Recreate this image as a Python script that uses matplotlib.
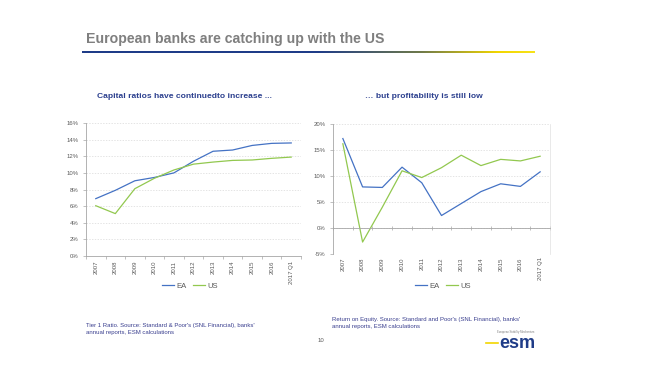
import matplotlib.pyplot as plt
import numpy as np
from matplotlib.colors import LinearSegmentedColormap

plt.rcParams['font.family'] = ['Liberation Sans', 'DejaVu Sans']

years = ["2007", "2008", "2009", "2010", "2011", "2012", "2013", "2014", "2015", "2016", "2017 Q1"]

# Tier 1 ratio (%)
cap_ea = [6.9, 7.9, 9.05, 9.45, 10.0, 11.4, 12.6, 12.75, 13.3, 13.55, 13.6]
cap_us = [6.05, 5.1, 8.1, 9.35, 10.35, 11.05, 11.3, 11.5, 11.55, 11.75, 11.9]

# Return on equity (%)
roe_ea = [17.2, 7.9, 7.8, 11.7, 8.7, 2.4, 4.7, 7.0, 8.5, 8.0, 10.8]
roe_us = [16.2, -2.7, 4.0, 11.0, 9.7, 11.6, 14.0, 12.0, 13.2, 12.9, 13.8]

W, H = 657, 371
BLUE = '#4472c4'
GREEN = '#92c84f'
NAVY = '#2b3f8e'
GREY = '#595959'


def px(x, y, w, h):
    # pixel box (from top-left) -> figure fraction
    return [x / W, 1 - (y + h) / H, w / W, h / H]


fig = plt.figure(figsize=(W / 100, H / 100), dpi=100)

# title and gradient underline
fig.text(86 / W, 1 - 39 / H, "European banks are catching up with the US",
         fontsize=10.2, fontweight='bold', color='#7f7f7f', va='center', ha='left')
gax = fig.add_axes(px(82, 51, 453, 2.2))
cmap = LinearSegmentedColormap.from_list(
    'ul', [(0, '#1f3c88'), (0.52, '#1f3c88'), (0.75, '#6f7a4a'), (0.92, '#f2d600'), (1, '#f7e21a')])
gax.imshow(np.linspace(0, 1, 256)[None, :], aspect='auto', cmap=cmap)
gax.axis('off')

# subtitles
fig.text(184 / W, 1 - 97 / H, "Capital ratios have continuedto increase ...",
         fontsize=6.1, fontweight='bold', color=NAVY, ha='center', va='center')
fig.text(424 / W, 1 - 96 / H, "\u2026 but profitability is still low",
         fontsize=6.1, fontweight='bold', color=NAVY, ha='center', va='center')

x = np.arange(len(years))


def style(ax):
    ax.set_xlim(-0.5, len(years) - 0.5)
    ax.set_xticks(x)
    ax.set_xticklabels(years, rotation=90, fontsize=4.3, color=GREY)
    ax.set_xticks(np.arange(-0.5, len(years), 1), minor=True)
    ax.tick_params(axis='x', which='major', length=0)
    ax.tick_params(axis='x', which='minor', length=2.5, color='#a6a6a6', width=0.5)
    ax.tick_params(axis='y', labelsize=4.3, labelcolor=GREY, length=2, color='#a6a6a6', width=0.5)
    ax.grid(axis='y', color='#d9d9d9', linestyle=(0, (2, 2)), linewidth=0.5)
    ax.set_axisbelow(True)
    for s in ['top', 'right']:
        ax.spines[s].set_visible(False)
    for s in ['left', 'bottom']:
        ax.spines[s].set_color('#a6a6a6')
        ax.spines[s].set_linewidth(0.6)


# left chart: capital ratios
ax1 = fig.add_axes(px(86, 123, 215, 133))
ax1.plot(x, cap_ea, color=BLUE, lw=0.9, label='EA')
ax1.plot(x, cap_us, color=GREEN, lw=0.9, label='US')
style(ax1)
ax1.set_ylim(0, 16)
ax1.set_yticks(range(0, 17, 2))
ax1.set_yticklabels([f"{v}%" for v in range(0, 17, 2)])
ax1.legend(loc='center', bbox_to_anchor=(190 / W, 1 - 286 / H), bbox_transform=fig.transFigure,
           ncol=2, frameon=False, fontsize=5.5, handlelength=1.6, handletextpad=0.3,
           columnspacing=0.8, labelcolor=GREY)

# right chart: return on equity
ax2 = fig.add_axes(px(333, 124, 217, 130))
ax2.spines['bottom'].set_position(('data', 0))
ax2.plot(x, roe_ea, color=BLUE, lw=0.9, label='EA')
ax2.plot(x, roe_us, color=GREEN, lw=0.9, label='US')
style(ax2)
ax2.set_ylim(-5, 20)
ax2.set_yticks(range(-5, 21, 5))
ax2.set_yticklabels([f"{v}%" for v in range(-5, 21, 5)])
ax2.tick_params(axis='x', which='major', pad=21)
ax2.tick_params(axis='x', which='minor', direction='inout', length=3)
ax2.spines['right'].set_visible(True)
ax2.spines['right'].set_color('#e0e0e0')
ax2.spines['right'].set_linewidth(0.5)
ax2.legend(loc='center', bbox_to_anchor=(443 / W, 1 - 286 / H), bbox_transform=fig.transFigure,
           ncol=2, frameon=False, fontsize=5.5, handlelength=1.6, handletextpad=0.3,
           columnspacing=0.8, labelcolor=GREY)

# footnotes
fig.text(86 / W, 1 - 329 / H,
         "Tier 1 Ratio. Source: Standard & Poor's (SNL Financial), banks'\nannual reports, ESM calculations",
         fontsize=4.3, color='#3a3f8f', ha='left', va='center', linespacing=1.3)
fig.text(332 / W, 1 - 323 / H,
         "Return on Equity. Source: Standard and Poor's (SNL Financial), banks'\nannual reports, ESM calculations",
         fontsize=4.3, color='#3a3f8f', ha='left', va='center', linespacing=1.3)
fig.text(318 / W, 1 - 340 / H, "10", fontsize=4.3, color=GREY, ha='left', va='center')

# ESM logo
fig.text(516 / W, 1 - 332 / H, "European Stability Mechanism", fontsize=2, color='#7f7f7f',
         ha='center', va='center')
fig.text(517 / W, 1 - 343 / H, "esm", fontsize=13, fontweight='bold', color='#1f3c88',
         ha='center', va='center')
fig.add_artist(plt.Line2D([486 / W, 498 / W], [1 - 343 / H, 1 - 343 / H], color='#f2d600', lw=1.2))

fig.savefig('out.png', dpi=100)
